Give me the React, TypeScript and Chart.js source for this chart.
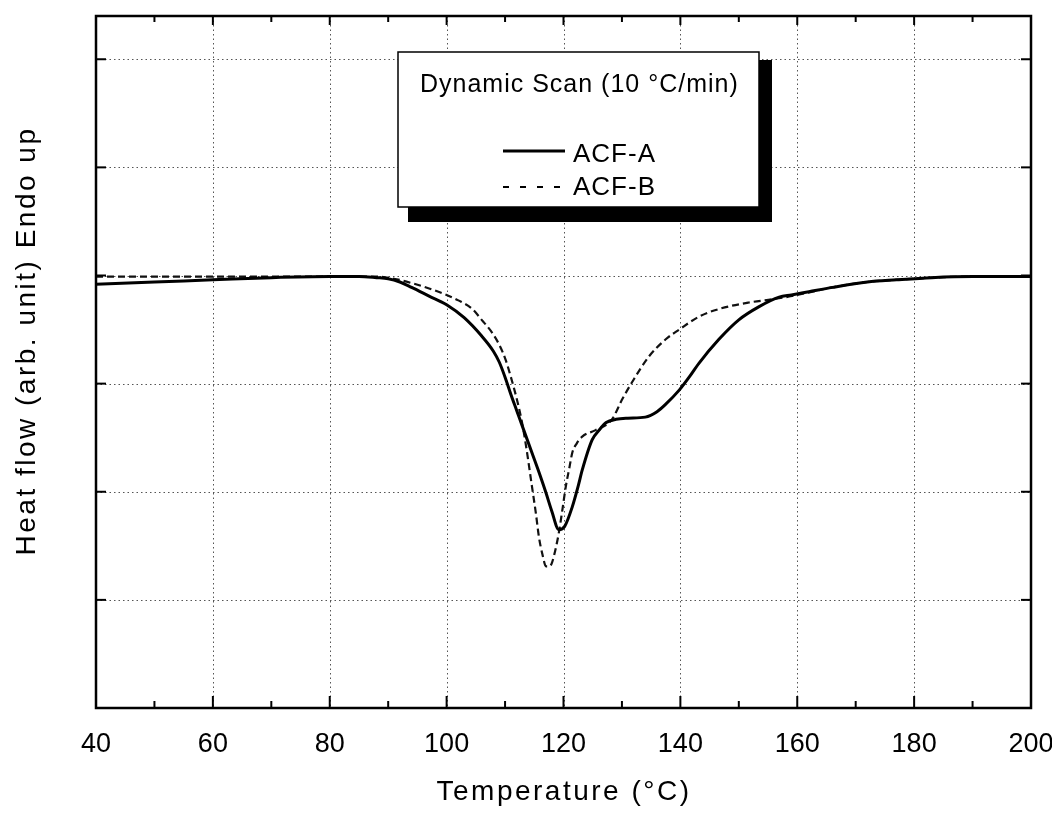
import React, { useEffect, useRef } from "react";
import { Chart, registerables } from "chart.js";

Chart.register(...registerables);

// ---- Data ----
const tempA = [40, 50, 60, 70, 80, 85, 88, 90, 92, 94, 97, 100, 103, 106, 108, 109, 110, 111, 112, 113, 114.6, 116, 117, 118, 119.2, 120.2, 121.5, 122.5, 123.2, 124.9, 126.1, 127.3, 129, 131, 134, 136, 137.5, 139.8, 141.5, 143.2, 146.6, 150, 153.4, 156.9, 159, 162, 166, 172, 177, 183, 190, 200];
const heatA = [3.92, 3.94, 3.96, 3.98, 3.99, 3.99, 3.98, 3.97, 3.94, 3.89, 3.81, 3.73, 3.61, 3.44, 3.3, 3.2, 3.06, 2.9, 2.75, 2.6, 2.36, 2.15, 1.99, 1.82, 1.65, 1.68, 1.86, 2.05, 2.2, 2.48, 2.57, 2.64, 2.67, 2.68, 2.69, 2.74, 2.81, 2.94, 3.06, 3.19, 3.41, 3.59, 3.71, 3.8, 3.82, 3.85, 3.89, 3.94, 3.96, 3.98, 3.99, 3.99];

const tempB = [40, 60, 80, 88, 91, 94, 97, 100, 102, 104.4, 106, 107.8, 109, 110.1, 111, 111.9, 112.8, 113.6, 114.6, 115.3, 115.8, 116.4, 117, 117.6, 118, 118.6, 119.2, 119.8, 120.4, 121, 121.5, 122.3, 123.2, 125.5, 128.3, 130, 131.7, 134.6, 137.5, 139.8, 143.2, 146.6, 151.7, 155.7, 159.1, 166, 172, 177, 183, 190, 200];
const heatB = [3.99, 3.99, 3.99, 3.99, 3.97, 3.93, 3.88, 3.82, 3.77, 3.69, 3.59, 3.47, 3.36, 3.22, 3.06, 2.88, 2.67, 2.42, 2.05, 1.79, 1.58, 1.42, 1.31, 1.31, 1.34, 1.46, 1.62, 1.83, 2.05, 2.22, 2.36, 2.45, 2.51, 2.57, 2.67, 2.85, 3.01, 3.25, 3.41, 3.5, 3.62, 3.69, 3.75, 3.78, 3.81, 3.89, 3.94, 3.96, 3.98, 3.99, 3.99];

const seriesNames = ["ACF-A", "ACF-B"];
const xMajor = [40, 60, 80, 100, 120, 140, 160, 180, 200];
const xMinor = [50, 70, 90, 110, 130, 150, 170, 190];
const yMajor = [1, 2, 3, 4, 5, 6];
const xTitle = "Temperature (°C)";
const yTitle = "Heat flow (arb. unit) Endo up";
const legendTitle = "Dynamic Scan (10 °C/min)";

const FONT = "'Liberation Sans', Arial, Helvetica, sans-serif";

const decorPlugin = {
  id: "decor",
  beforeDatasetsDraw(chart: any) {
    const { ctx, chartArea: a, scales } = chart;
    const x = scales.x, y = scales.y;
    ctx.save();
    ctx.strokeStyle = "#555";
    ctx.lineWidth = 1;
    ctx.setLineDash([1.5, 3]);
    for (const v of xMajor) {
      if (v === 40 || v === 200) continue;
      const px = Math.round(x.getPixelForValue(v)) + 0.5;
      ctx.beginPath();
      ctx.moveTo(px, a.top);
      ctx.lineTo(px, a.bottom);
      ctx.stroke();
    }
    for (const v of yMajor) {
      const py = Math.round(y.getPixelForValue(v)) + 0.5;
      ctx.beginPath();
      ctx.moveTo(a.left, py);
      ctx.lineTo(a.right, py);
      ctx.stroke();
    }
    ctx.restore();
  },
  afterDatasetsDraw(chart: any) {
    const { ctx, chartArea: a, scales } = chart;
    const x = scales.x, y = scales.y;
    ctx.save();
    ctx.setLineDash([]);
    ctx.strokeStyle = "#000";
    ctx.lineWidth = 2;
    const seg = (x1: number, y1: number, x2: number, y2: number) => {
      ctx.beginPath();
      ctx.moveTo(x1, y1);
      ctx.lineTo(x2, y2);
      ctx.stroke();
    };
    for (const v of xMajor) {
      const px = x.getPixelForValue(v);
      seg(px, a.bottom, px, a.bottom - 12);
      seg(px, a.top, px, a.top + 9);
    }
    for (const v of xMinor) {
      const px = x.getPixelForValue(v);
      seg(px, a.bottom, px, a.bottom - 7);
      seg(px, a.top, px, a.top + 6);
    }
    for (const v of yMajor) {
      const py = y.getPixelForValue(v);
      seg(a.left, py, a.left + 10, py);
      seg(a.right, py, a.right - 10, py);
    }
    // frame
    ctx.lineWidth = 2.5;
    ctx.strokeRect(a.left, a.top, a.right - a.left, a.bottom - a.top);

    // legend box with shadow
    const bx = 398, by = 52, bw = 361, bh = 155;
    ctx.fillStyle = "#000";
    ctx.fillRect(bx + 10, by + 8, bw + 3, bh + 7);
    ctx.fillStyle = "#fff";
    ctx.fillRect(bx, by, bw, bh);
    ctx.lineWidth = 1.5;
    ctx.strokeRect(bx, by, bw, bh);

    ctx.fillStyle = "#000";
    (ctx as any).letterSpacing = "1px";
    ctx.font = `25px ${FONT}`;
    ctx.textAlign = "left";
    ctx.textBaseline = "alphabetic";
    ctx.fillText(legendTitle, 420, 92);
    ctx.font = `26px ${FONT}`;
    ctx.fillText(seriesNames[0], 573, 162);
    ctx.fillText(seriesNames[1], 573, 195);
    ctx.lineWidth = 3;
    seg(503, 151, 565, 151);
    ctx.lineWidth = 2;
    ctx.setLineDash([6, 11]);
    seg(503, 187, 565, 187);
    ctx.setLineDash([]);

    // axis titles
    (ctx as any).letterSpacing = "2.5px";
    ctx.font = `28px ${FONT}`;
    ctx.textAlign = "center";
    ctx.fillText(xTitle, 564, 800);
    ctx.translate(35, 341);
    ctx.rotate(-Math.PI / 2);
    ctx.fillText(yTitle, 0, 0);
    (ctx as any).letterSpacing = "0px";
    ctx.restore();
  },
};

export default function App() {
  const ref = useRef<HTMLCanvasElement | null>(null);
  useEffect(() => {
    document.body.style.margin = "0";
    const canvas = ref.current;
    if (!canvas) return;
    const chart = new Chart(canvas, {
      type: "line",
      data: {
        datasets: [
          {
            label: seriesNames[0],
            data: tempA.map((t, i) => ({ x: t, y: heatA[i] })),
            borderColor: "#000",
            borderWidth: 3,
            pointRadius: 0,
            cubicInterpolationMode: "monotone",
            fill: false,
          },
          {
            label: seriesNames[1],
            data: tempB.map((t, i) => ({ x: t, y: heatB[i] })),
            borderColor: "#111",
            borderWidth: 2.2,
            borderDash: [7, 4],
            pointRadius: 0,
            cubicInterpolationMode: "monotone",
            fill: false,
          },
        ],
      },
      options: {
        animation: false,
        responsive: false,
        devicePixelRatio: 1,
        layout: { padding: { left: 0, right: 21, top: 16, bottom: 0 } },
        plugins: {
          legend: { display: false },
          tooltip: { enabled: false },
        },
        scales: {
          x: {
            type: "linear",
            min: 40,
            max: 200,
            grid: { display: false },
            border: { display: false },
            ticks: {
              stepSize: 20,
              color: "#000",
              padding: 12,
              maxRotation: 0,
              font: { family: FONT, size: 27 },
            },
            afterFit: (s: any) => {
              s.height = 108;
              s.paddingLeft = 0;
              s.paddingRight = 0;
            },
          },
          y: {
            type: "linear",
            min: 0,
            max: 6.4,
            grid: { display: false },
            border: { display: false },
            ticks: { display: false },
            afterFit: (s: any) => {
              s.width = 96;
              s.paddingTop = 0;
              s.paddingBottom = 0;
            },
          },
        },
      } as any,
      plugins: [decorPlugin],
    });
    return () => chart.destroy();
  }, []);
  return (
    <div style={{ width: 1052, height: 816, background: "#fff" }}>
      <canvas ref={ref} width={1052} height={816} />
    </div>
  );
}
